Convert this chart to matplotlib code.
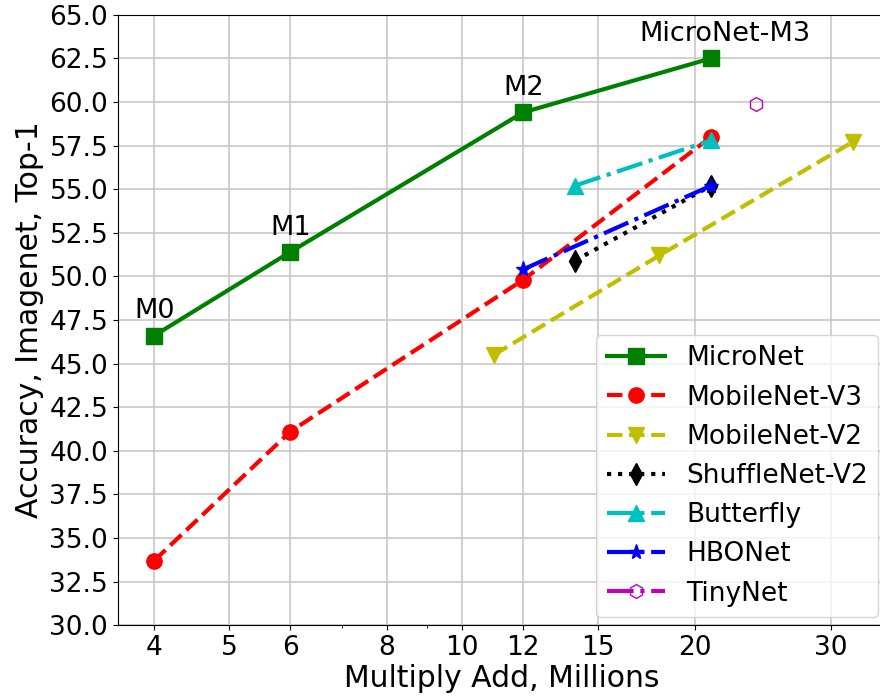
import numpy as np
import matplotlib
matplotlib.use('Agg')
from matplotlib import pyplot as plt
from matplotlib.ticker import FixedLocator, FixedFormatter

# MAdds (millions) and top-1 accuracy per model family
micronet_madds = [4, 6, 12, 21]
micronet_acc = [46.6, 51.4, 59.4, 62.5]
micronet_names = ['M0', 'M1', 'M2', 'MicroNet-M3']

mbv3_madds = [4, 6, 12, 21]
mbv3_acc = [33.7, 41.1, 49.8, 58.0]

mbv2_madds = [11, 18, 32]
mbv2_acc = [45.5, 51.2, 57.7]

shuffle_madds = [14, 21]
shuffle_acc = [50.9, 55.2]

butterfly_madds = [14, 21]
butterfly_acc = [55.2, 57.8]

hbonet_madds = [12, 21]
hbonet_acc = [50.4, 55.2]

tinynet_madds = [24]
tinynet_acc = [59.9]

xticks = [4, 5, 6, 8, 10, 12, 15, 20, 30]
yticks = np.arange(30, 65.1, 2.5)

fig = plt.figure(figsize=(8.8, 7), dpi=100)
# right edge runs a little past the canvas
ax = fig.add_axes([0.134, 0.107, 0.873, 0.872])

lw = 3
ms = 11
ax.plot(micronet_madds, micronet_acc, '-s', color='g', lw=lw, ms=ms, label='MicroNet')
ax.plot(mbv3_madds, mbv3_acc, '--o', color='r', lw=lw, ms=ms, label='MobileNet-V3')
ax.plot(mbv2_madds, mbv2_acc, '--v', color='y', lw=lw, ms=ms, label='MobileNet-V2')
ax.plot(shuffle_madds, shuffle_acc, ':d', color='k', lw=lw, ms=ms, label='ShuffleNet-V2')
ax.plot(butterfly_madds, butterfly_acc, '-.^', color='c', lw=lw, ms=ms, label='Butterfly')
ax.plot(hbonet_madds, hbonet_acc, '-.*', color='b', lw=lw, ms=ms, label='HBONet')
ax.plot(tinynet_madds, tinynet_acc, '-.h', color='m', lw=lw, ms=10,
        markerfacecolor='none', markeredgewidth=1, label='TinyNet')

for i, (x, y, name) in enumerate(zip(micronet_madds, micronet_acc, micronet_names)):
    dx = 10 if i == len(micronet_names) - 1 else 0  # long last label nudged right
    ax.annotate(name, (x, y), xytext=(dx, 8), textcoords='offset points',
                ha='center', va='bottom', fontsize=19.5)

ax.set_xscale('log')
ax.set_xlim(3.59, 35.35)
ax.set_ylim(30, 65)
ax.xaxis.set_major_locator(FixedLocator(xticks))
ax.xaxis.set_major_formatter(FixedFormatter([str(t) for t in xticks]))
ax.xaxis.set_minor_formatter(FixedFormatter([]))
ax.set_yticks(yticks)
ax.set_yticklabels(['%.1f' % t for t in yticks])
ax.tick_params(labelsize=19)
ax.grid(True, which='major', color='#c8c8c8', lw=1.2)

ax.set_xlabel('Multiply Add, Millions', fontsize=21.5, labelpad=2)
ax.set_ylabel('Accuracy, Imagenet, Top-1', fontsize=21.5, labelpad=4)

ax.legend(loc='lower right', fontsize=19, handlelength=2.2, borderaxespad=0.3)

plt.savefig('out.png', dpi=100)
